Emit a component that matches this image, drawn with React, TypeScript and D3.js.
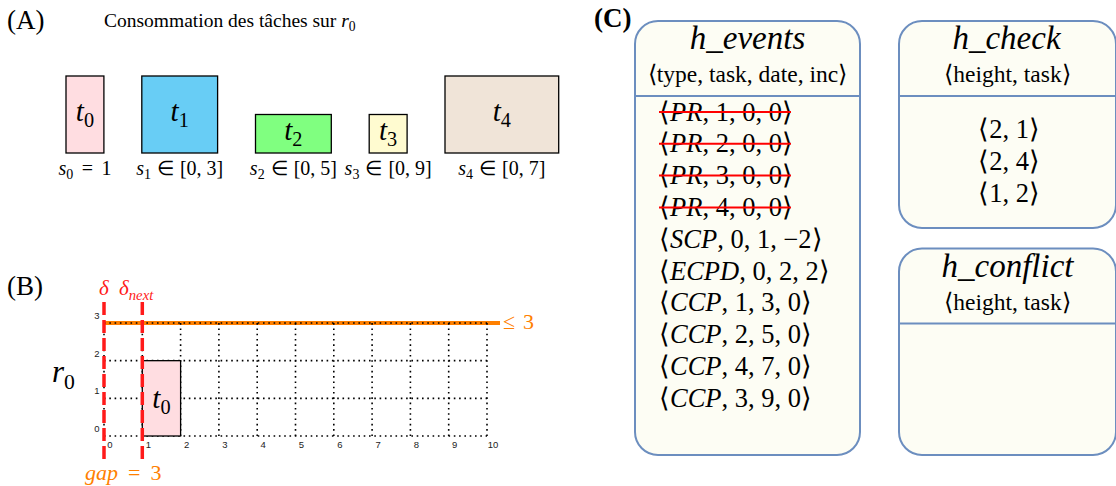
import React from "react";
import * as d3 from "d3";

// tasks on resource r0
const taskNames = ["0", "1", "2", "3", "4"];
const taskDurations = [1, 2, 2, 1, 3];
const taskHeights = [2, 2, 1, 1, 2];
const taskColors = ["#ffdde1", "#68cdf5", "#80ff80", "#fffbd0", "#f0e4d8"];
const startRelations = ["=", "∈", "∈", "∈", "∈"];
const startDomains = ["1", "[0, 3]", "[0, 5]", "[0, 9]", "[0, 7]"];

// profile panel (B)
const timeTicks = d3.range(0, 11);
const heightTicks = [0, 1, 2, 3];
const capacity = 3;
const delta = 0;
const deltaNext = 1;
const gap = 3;
const placedTask = 0;
const placedStart = 1;

// h_events
const eventTypes = ["PR", "PR", "PR", "PR", "SCP", "ECPD", "CCP", "CCP", "CCP", "CCP"];
const eventTasks = [1, 2, 3, 4, 0, 0, 1, 2, 4, 3];
const eventDates = [0, 0, 0, 0, 1, 2, 3, 5, 7, 9];
const eventIncs = [0, 0, 0, 0, -2, 2, 0, 0, 0, 0];
const eventRemoved = [true, true, true, true, false, false, false, false, false, false];

// h_check
const checkHeights = [2, 2, 1];
const checkTasks = [1, 4, 2];

const SERIF = '"Liberation Serif"';
const SANS = '"Liberation Sans"';
const ORANGE = "#ff8000";
const RED = "#ff1a1a";
const BLUE = "#6c8ebf";
const CREAM = "#fdfdf4";

const num = (v: number) => (v < 0 ? "\u2212" + Math.abs(v) : String(v));

// text element with the serif face set on itself
const T = (props: any) => <text {...props} style={{ fontFamily: SERIF, ...(props.style || {}) }} />;

// italic symbol with a subscript
const subbed = (base: string, sub: string, size: number, subItalic = false) => [
  <tspan key="b" fontStyle="italic">{base}</tspan>,
  <tspan key="s" fontSize={size * 0.7} dy={size * 0.22} fontStyle={subItalic ? "italic" : "normal"}>{sub}</tspan>,
];

const App = () => {
  // ---- panel A
  let acc = 0;
  const starts = taskDurations.map((d) => {
    const s = acc;
    acc += d + 1;
    return s;
  });
  const xA = d3.scaleLinear().domain([0, 1]).range([66, 66 + 37.9]);
  const yA = d3.scaleLinear().domain([0, 2]).range([153, 76]);

  // ---- panel B
  const xB = d3.scaleLinear().domain([0, 10]).range([104, 487]);
  const yB = d3.scaleLinear().domain([0, 3]).range([436, 323]);

  // ---- panel C
  const rowY = (i: number) => 112 + i * 31.8;
  const boxes = [
    { name: "h_events", sub: "⟨type, task, date, inc⟩", x: 635, y: 21, w: 225, h: 434 },
    { name: "h_check", sub: "⟨height, task⟩", x: 899, y: 21, w: 217, h: 207 },
    { name: "h_conflict", sub: "⟨height, task⟩", x: 899, y: 248.5, w: 217, h: 206.5 },
  ];

  return (
    <svg width={1116} height={486} style={{ position: "absolute", left: 0, top: 0, background: "#fff" }}>
      {/* (A) */}
      <T x={7} y={29} fontSize={27}>(A)</T>
      <T x={104} y={27} fontSize={19.5}>
        <tspan>Consommation des tâches sur </tspan>
        {subbed("r", "0", 19.5)}
      </T>
      {taskNames.map((t, i) => {
        const x0 = xA(starts[i]);
        const x1 = xA(starts[i] + taskDurations[i]);
        const y0 = yA(taskHeights[i]);
        const cx = (x0 + x1) / 2;
        const fs = 20;
        return (
          <g key={t}>
            <rect x={x0} y={y0} width={x1 - x0} height={yA(0) - y0} fill={taskColors[i]} stroke="#000" strokeWidth={1.3} />
            <T x={cx} y={(y0 + yA(0)) / 2 + 6} fontSize={29} textAnchor="middle">
              {subbed("t", t, 29)}
            </T>
            <T x={cx} y={175} fontSize={fs} textAnchor="middle">
              {subbed("s", t, fs)}
              <tspan dy={-fs * 0.22} dx={startRelations[i] === "=" ? 8.5 : 6}>{startRelations[i]}</tspan>
              <tspan dx={startRelations[i] === "=" ? 8.5 : 6}>{startDomains[i]}</tspan>
            </T>
          </g>
        );
      })}

      {/* (B) */}
      <T x={7} y={295} fontSize={27}>(B)</T>
      <line x1={xB(0)} x2={500} y1={yB(capacity)} y2={yB(capacity)} stroke={ORANGE} strokeWidth={4} />
      <T x={503} y={329} fontSize={22} fill={ORANGE}>
        <tspan>≤</tspan>
        <tspan dx={8}>{capacity}</tspan>
      </T>
      <g stroke="#000" strokeWidth={1.6} strokeDasharray="1.6 3.7">
        {heightTicks.map((h) => (
          <line key={"h" + h} x1={xB(0)} x2={xB(10)} y1={yB(h)} y2={yB(h)} />
        ))}
        {timeTicks.map((t) => (
          <line key={"v" + t} x1={xB(t)} x2={xB(t)} y1={yB(0)} y2={yB(capacity)} />
        ))}
      </g>
      <g fontSize={9.5} fill="#222">
        {timeTicks.map((t) => (
          <text key={t} x={xB(t) + 6} y={448} textAnchor="middle" style={{ fontFamily: SANS }}>{t}</text>
        ))}
        {heightTicks.map((h) => (
          <text key={h} x={97} y={yB(h) - 4} textAnchor="middle" style={{ fontFamily: SANS }}>{h}</text>
        ))}
      </g>
      <rect
        x={xB(placedStart)}
        y={yB(taskHeights[placedTask])}
        width={xB(placedStart + taskDurations[placedTask]) - xB(placedStart)}
        height={yB(0) - yB(taskHeights[placedTask])}
        fill={taskColors[placedTask]}
        stroke="#000"
        strokeWidth={1.3}
      />
      <T x={(xB(placedStart) + xB(placedStart + 1)) / 2} y={408} fontSize={29} textAnchor="middle">
        {subbed("t", taskNames[placedTask], 29)}
      </T>
      {[delta, deltaNext].map((d) => (
        <line key={d} x1={xB(d)} x2={xB(d)} y1={302} y2={463} stroke={RED} strokeWidth={3.5} strokeDasharray="13 5" />
      ))}
      <T x={99} y={295} fontSize={21} fill={RED} fontStyle="italic">δ</T>
      <T x={119} y={295} fontSize={21} fill={RED}>{subbed("δ", "next", 21, true)}</T>
      <T x={52} y={382} fontSize={31}>{subbed("r", "0", 31)}</T>
      <T x={85} y={480} fontSize={22} fill={ORANGE}>
        <tspan fontStyle="italic">gap</tspan>
        <tspan dx={10}>=</tspan>
        <tspan dx={10}>{gap}</tspan>
      </T>

      {/* (C) */}
      <T x={594} y={27} fontSize={27} fontWeight="bold">(C)</T>
      {boxes.map((b) => (
        <g key={b.name}>
          <rect x={b.x} y={b.y} width={b.w} height={b.h} rx={23} fill={CREAM} stroke={BLUE} strokeWidth={2} />
          <line x1={b.x} x2={b.x + b.w} y1={b.y + 75} y2={b.y + 75} stroke={BLUE} strokeWidth={2} />
          <T x={b.x + b.w / 2 + (b.name === "h_check" ? -1 : 0)} y={b.y + 28} fontSize={33} fontStyle="italic" textAnchor="middle">
            {b.name}
          </T>
          <T x={b.x + b.w / 2} y={b.y + 61} fontSize={23.5} textAnchor="middle">{b.sub}</T>
        </g>
      ))}
      {eventTypes.map((t, i) => (
        <g key={i}>
          <T x={659} y={rowY(i) + 8.5} fontSize={26.5}>
            <tspan>⟨</tspan>
            <tspan fontStyle="italic">{t}</tspan>
            <tspan>{`, ${eventTasks[i]}, ${eventDates[i]}, ${num(eventIncs[i])}⟩`}</tspan>
          </T>
          {eventRemoved[i] && (
            <line x1={659} x2={791} y1={rowY(i)} y2={rowY(i)} stroke="#ff0000" strokeWidth={2} />
          )}
        </g>
      ))}
      {checkHeights.map((h, i) => (
        <T key={i} x={1009} y={129 + i * 32 + 8.5} fontSize={26.5} textAnchor="middle">
          {`⟨${h}, ${checkTasks[i]}⟩`}
        </T>
      ))}
    </svg>
  );
};

export default App;
